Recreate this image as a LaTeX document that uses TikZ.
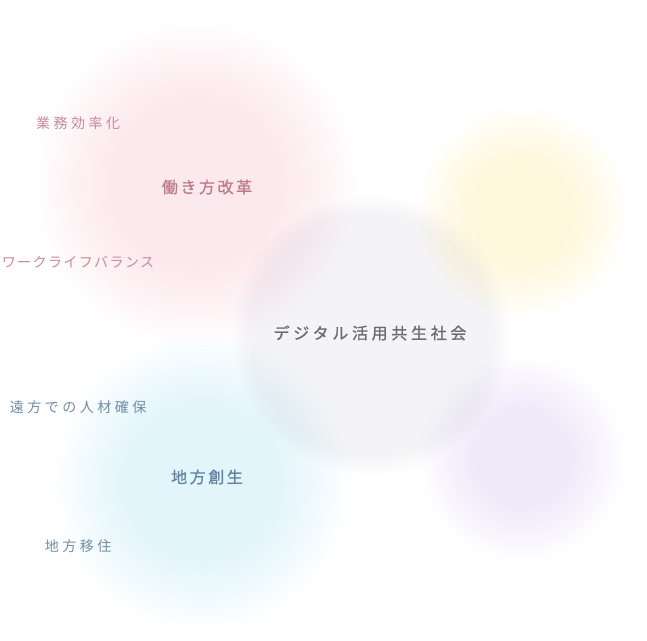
\documentclass[tikz,border=0pt]{standalone}
\usepackage{fontspec}
\setmainfont{Noto Sans CJK JP}
\newfontfamily\jps[LetterSpace=25]{Noto Sans CJK JP}
\newfontfamily\jpk[LetterSpace=10]{Noto Sans CJK JP}
\newfontfamily\jpb[LetterSpace=16,FakeBold=0.8]{Noto Sans CJK JP}
\newfontfamily\jpc[LetterSpace=23,FakeBold=0.8]{Noto Sans CJK JP}
\definecolor{cpink}{HTML}{FCE9EE}
\definecolor{cyel}{HTML}{FFF7DC}
\definecolor{cgray}{HTML}{F4F4F6}
\definecolor{clav}{HTML}{EFEAFA}
\definecolor{ccyan}{HTML}{E2F5FB}
\definecolor{tpink}{HTML}{C98A9A}
\definecolor{tpinkd}{HTML}{BE7A8B}
\definecolor{tgray}{HTML}{6B6B76}
\definecolor{tblue}{HTML}{6F8DAA}
\definecolor{tblued}{HTML}{6283A2}
\pgfdeclareradialshading{pinkshade}{\pgfpoint{0bp}{0bp}}{color(0bp)=(cpink); color(85bp)=(cpink); color(125bp)=(cpink!55!white); color(165bp)=(white)}
\pgfdeclareradialshading{yelshade}{\pgfpoint{0bp}{0bp}}{color(0bp)=(cyel); color(50bp)=(cyel); color(80bp)=(cyel!55!white); color(108bp)=(white)}
\pgfdeclareradialshading{lavshade}{\pgfpoint{0bp}{0bp}}{color(0bp)=(clav); color(48bp)=(clav); color(76bp)=(clav!55!white); color(104bp)=(white)}
\pgfdeclareradialshading{cyanshade}{\pgfpoint{0bp}{0bp}}{color(0bp)=(ccyan); color(75bp)=(ccyan); color(112bp)=(ccyan!55!white); color(150bp)=(white)}
\pgfdeclareradialshading{grayshade}{\pgfpoint{0bp}{0bp}}{color(0bp)=(cgray); color(120bp)=(cgray); color(131bp)=(cgray!50!white); color(141bp)=(white)}
\tikzset{
  blob/.style={inner sep=0pt, outer sep=0pt},
  small/.style={font=\jps\fontsize{14}{16}\selectfont},
  big/.style={font=\jpb\fontsize{16}{18}\selectfont},
}
\begin{document}
\begin{tikzpicture}[x=1pt,y=-1pt]
\useasboundingbox (0,0) rectangle (647,640);
\fill[white] (0,0) rectangle (647,640);
\begin{scope}[blend mode=multiply]
\node[blob] (bp) at (196,183) {\pgfuseshading{pinkshade}};
\node[blob] (by) at (522,212) {\pgfuseshading{yelshade}};
\node[blob] (bl) at (522,458) {\pgfuseshading{lavshade}};
\node[blob] (bc) at (202,482) {\pgfuseshading{cyanshade}};
\node[blob] (bg) at (371,335) {\pgfuseshading{grayshade}};
\end{scope}
\node[small, text=tpink] (n1) at (78,123) {業務効率化};
\node[big, text=tpinkd] (n2) at (207,187) {働き方改革};
\node[font=\jpk\fontsize{14}{16}\selectfont, text=tpink] (n3) at (78,262) {ワークライフバランス};
\node[font=\jpc\fontsize{16}{18}\selectfont, text=tgray] (c) at (370,333) {デジタル活用共生社会};
\node[small, text=tblue] (n4) at (78,407) {遠方での人材確保};
\node[big, text=tblued] (n5) at (207,477) {地方創生};
\node[small, text=tblue] (n6) at (78,546) {地方移住};
\end{tikzpicture}
\end{document}
